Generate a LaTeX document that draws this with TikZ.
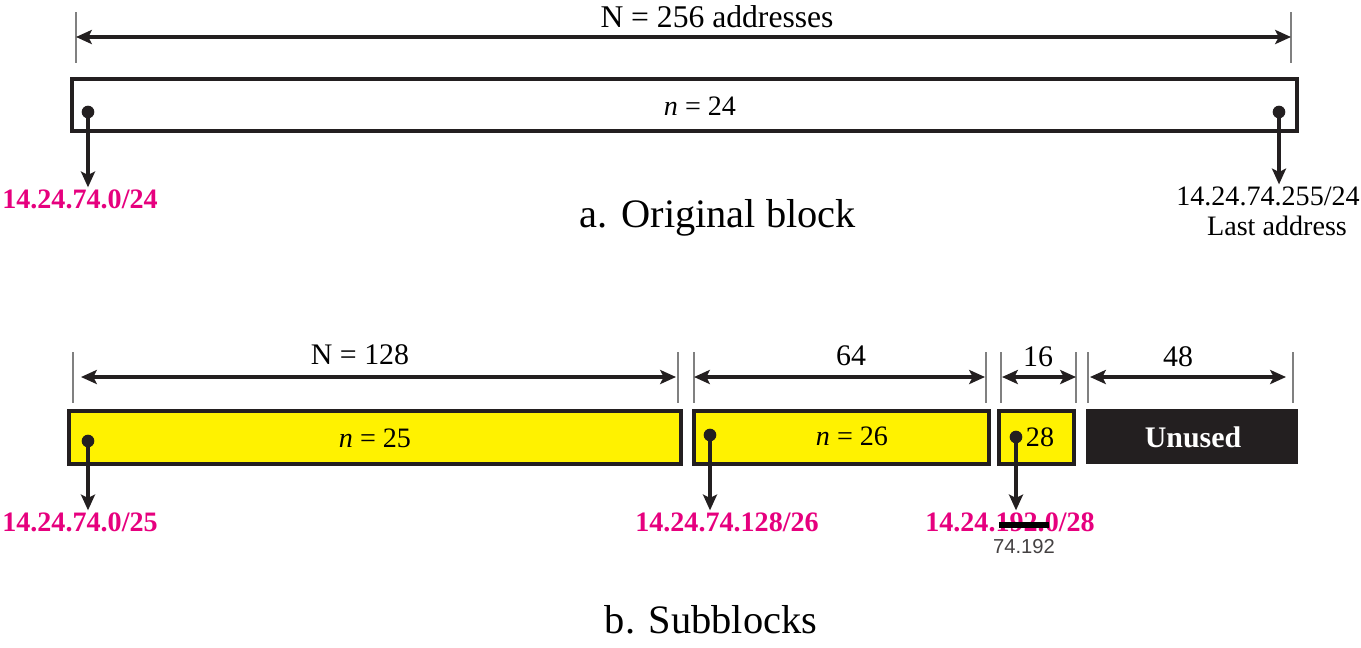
\documentclass[tikz,border=0pt]{standalone}
\usepackage{fontspec}
\setmainfont{Liberation Serif}
\newfontfamily\smallsans{Liberation Sans}
\usepackage{xcolor}
\usetikzlibrary{arrows.meta, positioning}

\definecolor{addrpink}{RGB}{230,0,126}
\definecolor{blockyellow}{RGB}{255,242,0}
\definecolor{unusedblack}{RGB}{35,31,32}

\begin{document}
\begin{tikzpicture}[x=0.02cm, y=-0.02cm, >={Stealth[length=9pt, width=8pt, inset=2pt]},
    blk/.style={draw=unusedblack, line width=2pt},
    ptr/.style={->, line width=1.8pt, draw=unusedblack},
    dim/.style={<->, line width=1.8pt, draw=unusedblack},
    tick/.style={draw=gray, line width=0.7pt},
    txt/.style={inner sep=1pt, font=\fontsize{16}{18}\selectfont},
    addr/.style={inner sep=1pt, text=addrpink, font=\fontsize{16}{18}\selectfont\bfseries},
    caption/.style={inner sep=1pt, font=\fontsize{23}{26}\selectfont}]
    \useasboundingbox (0,0) rectangle (1361,647);

    % a. Bloc d'origine
    \draw[tick] (76,12) -- (76,63);
    \draw[tick] (1291,12) -- (1291,63);
    \coordinate (tl) at (76,37);
    \coordinate (tr) at (1291,37);
    \draw[dim] (tl) -- (tr);
    \node[txt, font=\fontsize{18}{20}\selectfont] (nall) at (717,17) {N = 256 addresses};

    \draw[blk] (72,79) rectangle (1297,131);
    \node[txt] (n24) at (700,106) {\textit{n} = 24};

    \coordinate (first) at (88,112);
    \coordinate (last) at (1279,112);
    \fill[unusedblack] (first) circle (3.6pt);
    \fill[unusedblack] (last) circle (3.6pt);

    \node[addr] (a24) at (80,199) {14.24.74.0/24};
    \node[txt] (z24) at (1268,196) {14.24.74.255/24};
    \node[txt] (lastlbl) at (1277,226) {Last address};
    \draw[ptr] (first) -- (first |- a24.north);
    \draw[ptr] (last) -- (last |- z24.north);

    \node[caption] (capa) at (718,218) {a. Original block};

    % b. Sous-blocs
    \foreach \x in {73,678,694,986,1001,1076,1088,1293} {
        \draw[tick] (\x,352) -- (\x,403);
    }
    \coordinate (s1l) at (81,377);  \coordinate (s1r) at (676,377);
    \coordinate (s2l) at (694,377); \coordinate (s2r) at (985,377);
    \coordinate (s3l) at (1002,377); \coordinate (s3r) at (1076,377);
    \coordinate (s4l) at (1090,377); \coordinate (s4r) at (1286,377);
    \draw[dim] (s1l) -- (s1r);
    \draw[dim] (s2l) -- (s2r);
    \draw[dim] (s3l) -- (s3r);
    \draw[dim] (s4l) -- (s4r);
    \node[txt, font=\fontsize{17}{19}\selectfont] (w128) at (360,355) {N = 128};
    \node[txt, font=\fontsize{17}{19}\selectfont] (w64) at (851,356) {64};
    \node[txt, font=\fontsize{17}{19}\selectfont] (w16) at (1038,357) {16};
    \node[txt, font=\fontsize{17}{19}\selectfont] (w48) at (1178,357) {48};

    \draw[blk, fill=blockyellow] (69,411) rectangle (681,464);
    \draw[blk, fill=blockyellow] (694,411) rectangle (989,464);
    \draw[blk, fill=blockyellow] (999,411) rectangle (1074,464);
    \fill[unusedblack] (1086,409) rectangle (1298,464);

    \node[txt] (n25) at (375,438) {\textit{n} = 25};
    \node[txt] (n26) at (852,436) {\textit{n} = 26};
    \node[txt] (n28) at (1040,437) {28};
    \node[txt, text=white, font=\fontsize{17}{19}\selectfont\bfseries] (unused) at (1193,437) {Unused};

    \coordinate (b1) at (88,441);
    \coordinate (b2) at (710,435);
    \coordinate (b3) at (1016,437);
    \foreach \p in {b1,b2,b3} {
        \fill[unusedblack] (\p) circle (3.6pt);
    }

    \node[addr] (a25) at (80,522) {14.24.74.0/25};
    \node[addr] (a26) at (727,522) {14.24.74.128/26};
    \node[addr] (a28) at (1010,522) {14.24.192.0/28};
    \draw[ptr] (b1) -- (b1 |- a25.north);
    \draw[ptr] (b2) -- (b2 |- a26.north);
    \draw[ptr] (b3) -- (b3 |- a28.north);

    % correction
    \draw[line width=3.4pt, draw=black] (999,525) -- (1049,525);
    \node[inner sep=1pt, text=unusedblack!85, font=\fontsize{11.5}{13}\selectfont\smallsans] (fix) at (1024,547) {74.192};

    \node[caption] (capb) at (711,620) {b. Subblocks};
\end{tikzpicture}
\end{document}
